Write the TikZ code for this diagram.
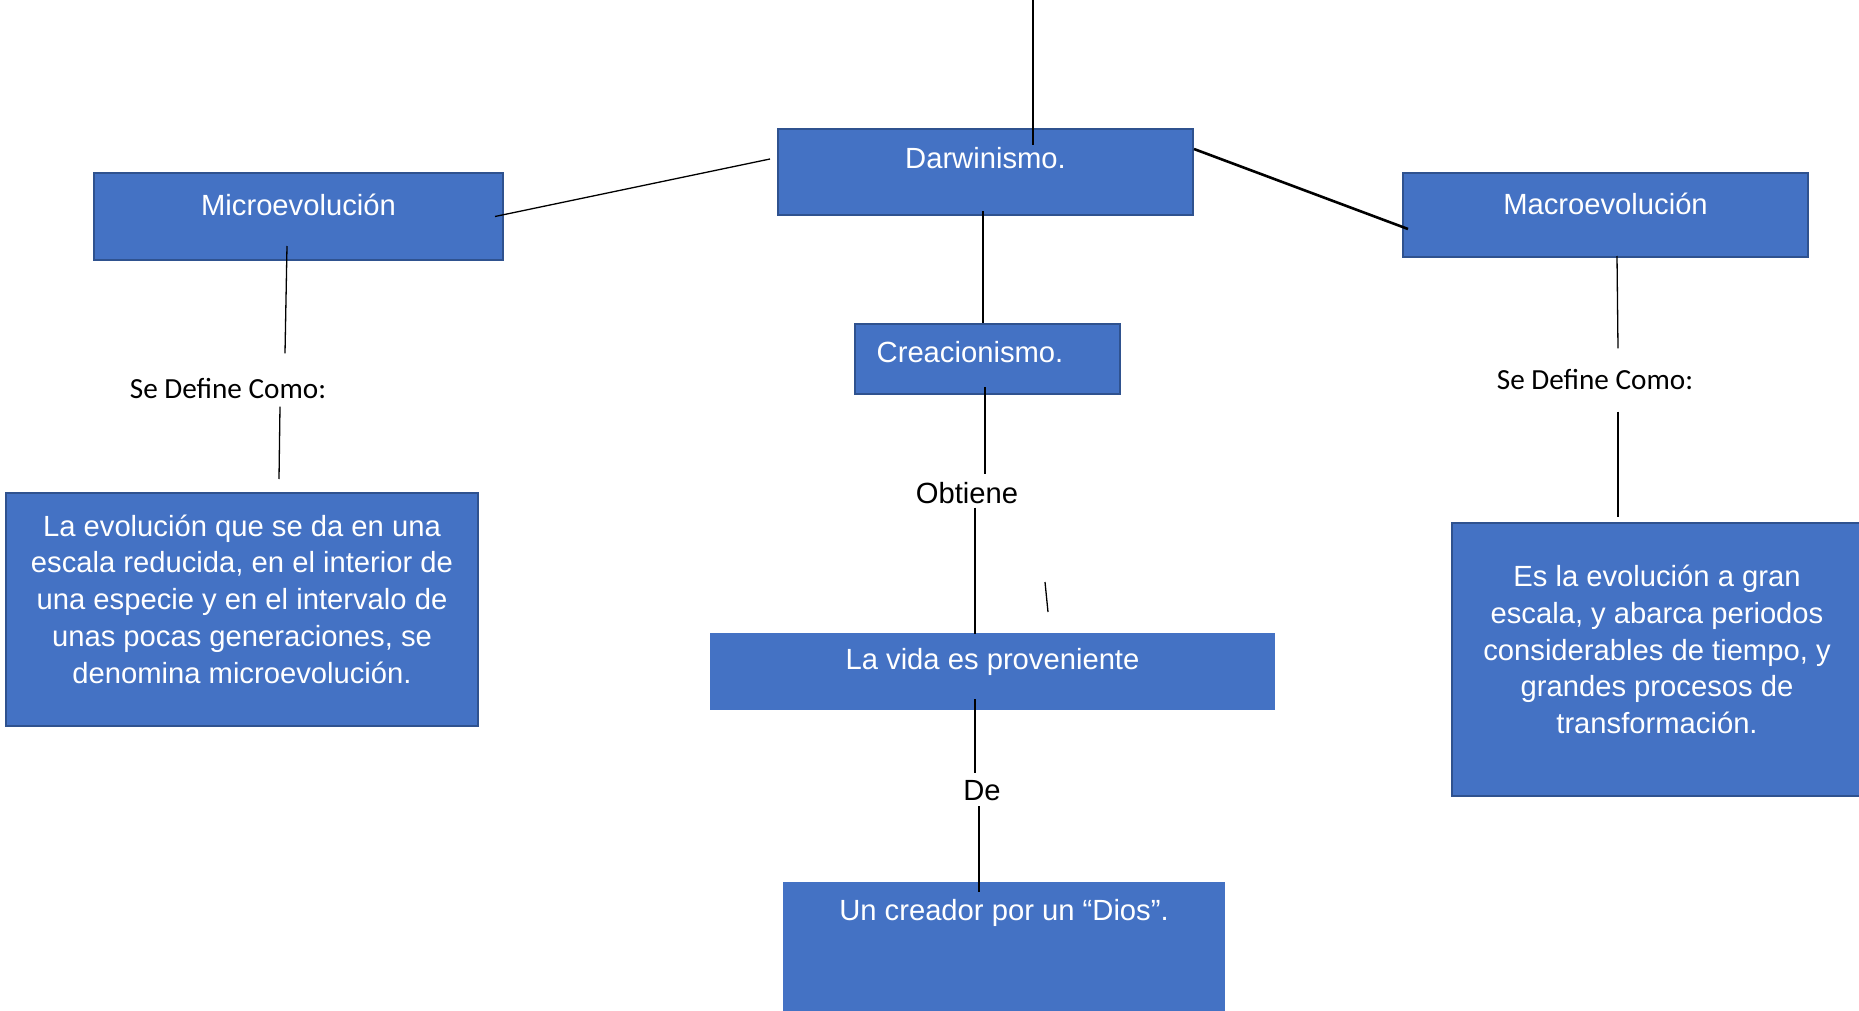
\documentclass[tikz,border=0pt]{standalone}
\usepackage{fontspec}
\setmainfont{Liberation Sans}
\newfontfamily\calfont{Carlito}
\usetikzlibrary{positioning}
\definecolor{boxblue}{HTML}{4472C4}
\definecolor{boxedge}{HTML}{2F528F}
\tikzset{
    mybox/.style = {rectangle, draw=boxedge, line width=1pt, fill=boxblue, inner sep=0pt},
    myboxn/.style = {rectangle, draw=none, fill=boxblue, inner sep=0pt},
    mytxt/.style = {inner sep=0pt, text=white, align=center, font=\fontsize{14.6}{18.4}\selectfont},
    mylbl/.style = {inner sep=0pt, text=black, font=\fontsize{14.6}{18.4}\selectfont},
    mylblc/.style = {inner sep=0pt, text=black, font=\calfont\fontsize{14.6}{18.4}\selectfont},
    edgen/.style = {line width=0.65pt, black},
    edgek/.style = {line width=1.3pt, black}
}

\begin{document}
\begin{tikzpicture}[x=0.5pt,y=-0.5pt]
\clip (0,0) rectangle (1859,1011);
\fill[white] (0,0) rectangle (1859,1011);
% boxes
\node[mybox, minimum width=207.5pt, minimum height=43pt] at (985.5,172) (darwin) {};
\node[mybox, minimum width=204.5pt, minimum height=43.5pt] at (298.5,216.5) (micro) {};
\node[mybox, minimum width=202.5pt, minimum height=42pt] at (1605.5,215) (macro) {};
\node[mybox, minimum width=132.5pt, minimum height=35pt] at (987.5,359) (creac) {};
\node[mybox, minimum width=236pt, minimum height=116.5pt] at (242,609.5) (microdef) {};
\node[mybox, minimum width=209pt, minimum height=136.5pt] at (1661,659.5) (macrodef) {};
\node[myboxn, minimum width=282.5pt, minimum height=38.5pt] at (992.5,671.5) (vida) {};
\node[myboxn, minimum width=221pt, minimum height=74pt] at (1004,956) (dios) {};
%
\node[mytxt] at ([yshift=-15.2pt]darwin.north) (darwint) {Darwinismo.};
\node[mytxt] at ([yshift=-16.6pt]micro.north) (microt) {Microevolución};
\node[mytxt] at ([yshift=-16.1pt]macro.north) (macrot) {Macroevolución};
\node[mytxt] at ([xshift=-8.75pt,yshift=-14.6pt]creac.north) (creact) {Creacionismo.};
\node[mytxt] at ([yshift=5.2pt]microdef.center) (microdeft) {La evolución que se da en una\\escala reducida, en el interior de\\una especie y en el intervalo de\\unas pocas generaciones, se\\denomina microevolución.};
\node[mytxt] at ([xshift=-2pt,yshift=5pt]macrodef.center) (macrodeft) {Es la evolución a gran\\escala, y abarca periodos\\considerables de tiempo, y\\grandes procesos de\\transformación.};
\node[mytxt] at ([yshift=-14.5pt]vida.north) (vidat) {La vida es proveniente};
\node[mytxt] at ([yshift=-15.5pt]dios.north) (diost) {Un creador por un “Dios”.};
% link words
\node[mylblc] at (228,389) (sdcl) {Se Define Como:};
\node[mylblc] at (1595,380) (sdcr) {Se Define Como:};
\node[mylbl] at (967,493) (obt) {Obtiene};
\node[mylbl] at (982,791) (de) {De};
\coordinate (top) at (1033,0);
\coordinate (s1) at (1045,582);
\coordinate (s2) at (1048,612);
%
\draw[edgen] (top) -- ([xshift=23.75pt,yshift=-8.5pt]darwin.north);
\draw[edgen] ([xshift=-4.5pt]micro.east) -- ([xshift=-3.5pt,yshift=6.5pt]darwin.west);
\draw[edgek] ([yshift=11.5pt]darwin.east) -- ([xshift=3pt,yshift=-7pt]macro.west);
\draw[edgen] ([xshift=-1.25pt,yshift=2.5pt]darwin.south) -- ([xshift=-2.25pt]creac.north);
\draw[edgen] ([xshift=-1.25pt,yshift=4pt]creac.south) -- ([xshift=9pt,yshift=4pt]obt.north);
\draw[edgen] ([xshift=4pt,yshift=-1.75pt]obt.south) -- ([xshift=-8.75pt,yshift=-0.5pt]vida.north);
\draw[edgen] (s1) -- (s2);
\draw[edgen] ([xshift=-8.75pt,yshift=5.5pt]vida.south) -- ([xshift=-3.5pt,yshift=3.75pt]de.north);
\draw[edgen] ([xshift=-1.5pt,yshift=-2.25pt]de.south) -- ([xshift=-12.5pt,yshift=-5pt]dios.north);
\draw[edgen] ([xshift=-5.75pt,yshift=7.5pt]micro.south) -- ([xshift=28.5pt,yshift=12.5pt]sdcl.north);
\draw[edgen] ([xshift=26pt,yshift=-3.5pt]sdcl.south) -- ([xshift=18.5pt,yshift=6.5pt]microdef.north);
\draw[edgen] ([xshift=5.75pt,yshift=1pt]macro.south) -- ([xshift=11.5pt,yshift=10.5pt]sdcr.north);
\draw[edgen] ([xshift=11.5pt,yshift=-10.5pt]sdcr.south) -- ([xshift=-21.5pt,yshift=2.5pt]macrodef.north);
\end{tikzpicture}
\end{document}
